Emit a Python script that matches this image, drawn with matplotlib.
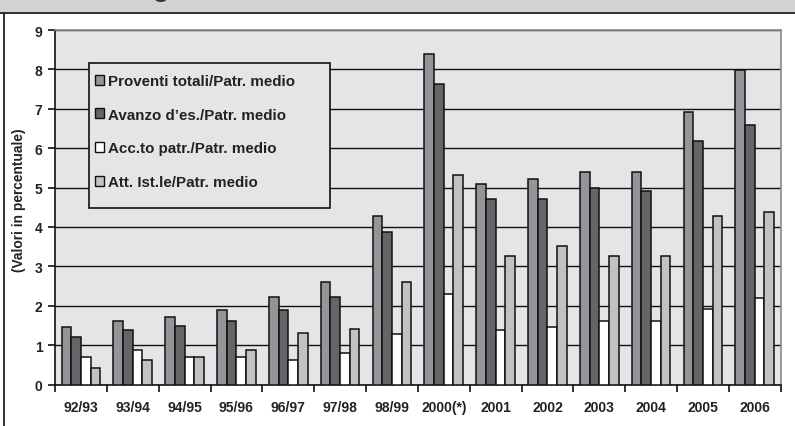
import matplotlib
matplotlib.use("Agg")
import matplotlib.pyplot as plt
from matplotlib.patches import Patch, Rectangle
from matplotlib.lines import Line2D
import numpy as np

plt.rcParams['font.family'] = ['Liberation Sans', 'DejaVu Sans']
plt.rcParams['font.weight'] = 'bold'

categories = ["92/93", "93/94", "94/95", "95/96", "96/97", "97/98", "98/99",
              "2000(*)", "2001", "2002", "2003", "2004", "2005", "2006"]

proventi = [1.47, 1.62, 1.72, 1.90, 2.22, 2.60, 4.28, 8.40, 5.08, 5.21, 5.40, 5.40, 6.91, 7.98]
avanzo = [1.20, 1.39, 1.48, 1.62, 1.90, 2.22, 3.88, 7.62, 4.71, 4.71, 4.98, 4.90, 6.18, 6.60]
accantonamento = [0.71, 0.88, 0.71, 0.71, 0.61, 0.79, 1.29, 2.31, 1.38, 1.46, 1.62, 1.62, 1.91, 2.20]
attivita = [0.43, 0.61, 0.71, 0.88, 1.30, 1.40, 2.59, 5.32, 3.27, 3.51, 3.27, 3.27, 4.28, 4.39]

series_labels = ["Proventi totali/Patr. medio", "Avanzo d\u2019es./Patr. medio",
                 "Acc.to patr./Patr. medio", "Att. Ist.le/Patr. medio"]
series_colors = ["#939598", "#646567", "#ffffff", "#c1c2c4"]

W, H = 795, 427
fig = plt.figure(figsize=(W / 100, H / 100), dpi=100)
fig.patch.set_facecolor("white")

# header band with the cut-off title
fig.patches.append(Rectangle((0, (H - 14) / H), 1, 14 / H, transform=fig.transFigure,
                             facecolor="#d1d2d4", edgecolor="none", zorder=0))
fig.lines.append(Line2D([0, 1], [(H - 14) / H] * 2, transform=fig.transFigure,
                        color="#222222", lw=1.3))
fig.lines.append(Line2D([3.5 / W] * 2, [0, (H - 14) / H], transform=fig.transFigure,
                        color="#222222", lw=1.3))
fig.text(161 / W, (H + 3) / H, "g", fontsize=19, ha="center", va="baseline",
         color="#333333", clip_on=False)

ax = fig.add_axes([55 / W, (H - 385.5) / H, 725.7 / W, 354.5 / H])
ax.set_facecolor("#e4e5e7")

x = np.arange(len(categories))
bw = 0.186
data = [proventi, avanzo, accantonamento, attivita]
for i, (vals, col) in enumerate(zip(data, series_colors)):
    ax.bar(x + (i - 1.5) * bw, vals, width=bw, color=col, edgecolor="#111111",
           linewidth=1.1, zorder=3)

ax.set_xlim(-0.5, len(categories) - 0.5)
ax.set_ylim(0, 9)
ax.set_yticks(range(0, 10))
ax.set_yticklabels([str(v) for v in range(0, 10)], fontsize=10, fontweight="bold",
                   color="#222222")
ax.yaxis.grid(True, color="#111111", lw=1.0, zorder=1)
ax.set_axisbelow(True)

ax.set_xticks(x)
ax.set_xticklabels(categories, fontsize=10, fontweight="bold", color="#222222")
ax.tick_params(axis="x", length=0, pad=11)
ax.set_xticks(np.arange(-0.5, len(categories)), minor=True)
ax.tick_params(axis="x", which="minor", length=5, width=1.2, color="#111111", direction="out")
ax.tick_params(axis="y", length=5, width=1.2, color="#111111", direction="out", pad=4)

for side in ("left", "bottom"):
    ax.spines[side].set_color("#111111")
    ax.spines[side].set_linewidth(1.2)
for side in ("top", "right"):
    ax.spines[side].set_color("#8a8a8c")
    ax.spines[side].set_linewidth(1.2)

fig.text(19 / W, (H - 200.5) / H, "(Valori in percentuale)", rotation=90,
         ha="center", va="center", fontsize=9.9, fontweight="bold", color="#222222")

# legend box drawn separately so its size can be set directly
ax.add_patch(Rectangle((89 / W, (H - 209) / H), 241 / W, 145 / H,
                       transform=fig.transFigure, facecolor="#e4e5e7",
                       edgecolor="#111111", linewidth=1.2, zorder=4, clip_on=False))

handles = [Patch(facecolor=c, edgecolor="#111111", linewidth=1.0) for c in series_colors]
leg = ax.legend(handles, series_labels, loc="upper left",
                bbox_to_anchor=(95 / W, (H - 75) / H), bbox_transform=fig.transFigure,
                prop={"size": 10.9, "weight": "bold"}, frameon=False,
                handlelength=0.62, handleheight=0.62, handletextpad=0.25,
                labelspacing=1.3, borderpad=0, borderaxespad=0, labelcolor="#222222")
leg.set_zorder(5)

fig.savefig("out.png", dpi=100)
